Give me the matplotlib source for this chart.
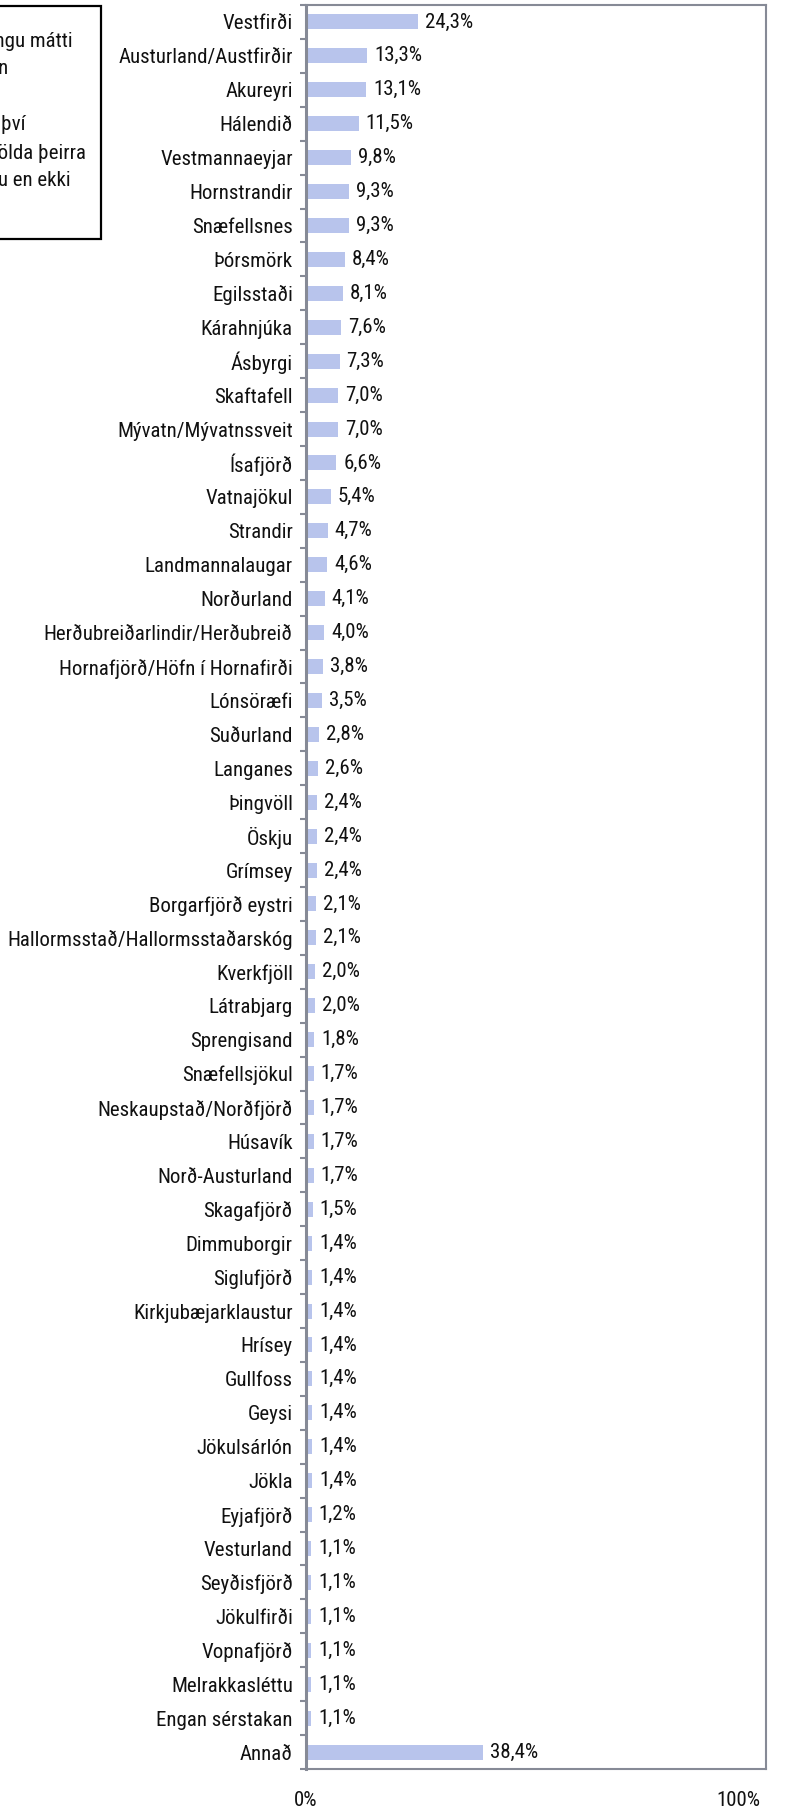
import numpy as np
import matplotlib
matplotlib.use("Agg")
import matplotlib.pyplot as plt
from matplotlib import font_manager as fm
from matplotlib.patches import Rectangle
from matplotlib.ticker import FixedLocator
import matplotlib.transforms as mtransforms

# Staðir sem nefndir voru og hlutfall svarenda (%)
places = [
    "Vestfirði", "Austurland/Austfirðir", "Akureyri", "Hálendið",
    "Vestmannaeyjar", "Hornstrandir", "Snæfellsnes", "Þórsmörk",
    "Egilsstaði", "Kárahnjúka", "Ásbyrgi", "Skaftafell",
    "Mývatn/Mývatnssveit", "Ísafjörð", "Vatnajökul", "Strandir",
    "Landmannalaugar", "Norðurland", "Herðubreiðarlindir/Herðubreið",
    "Hornafjörð/Höfn í Hornafirði", "Lónsöræfi", "Suðurland", "Langanes",
    "Þingvöll", "Öskju", "Grímsey", "Borgarfjörð eystri",
    "Hallormsstað/Hallormsstaðarskóg", "Kverkfjöll", "Látrabjarg",
    "Sprengisand", "Snæfellsjökul", "Neskaupstað/Norðfjörð", "Húsavík",
    "Norð-Austurland", "Skagafjörð", "Dimmuborgir", "Siglufjörð",
    "Kirkjubæjarklaustur", "Hrísey", "Gullfoss", "Geysi", "Jökulsárlón",
    "Jökla", "Eyjafjörð", "Vesturland", "Seyðisfjörð", "Jökulfirði",
    "Vopnafjörð", "Melrakkasléttu", "Engan sérstakan", "Annað",
]
shares = [
    24.3, 13.3, 13.1, 11.5, 9.8, 9.3, 9.3, 8.4, 8.1, 7.6, 7.3, 7.0,
    7.0, 6.6, 5.4, 4.7, 4.6, 4.1, 4.0, 3.8, 3.5, 2.8, 2.6, 2.4, 2.4,
    2.4, 2.1, 2.1, 2.0, 2.0, 1.8, 1.7, 1.7, 1.7, 1.7, 1.5, 1.4, 1.4,
    1.4, 1.4, 1.4, 1.4, 1.4, 1.4, 1.2, 1.1, 1.1, 1.1, 1.1, 1.1, 1.1,
    38.4,
]
x_ticks = [0, 100]
x_tick_labels = ["0%", "100%"]

note_lines = [
    "Í þessari spurningu mátti",
    "nefna fleiri en einn",
    "",
    "Hlutfallstölur eru því",
    "reiknaðar af fjölda þeirra",
    "sem svöruðu en ekki",
]

# Condensed sans-serif if one is installed
available = {f.name for f in fm.fontManager.ttflist}
family = "DejaVu Sans"
for cand in ["Liberation Sans Narrow", "Arial Narrow", "Roboto Condensed",
             "Open Sans Condensed", "Liberation Sans"]:
    if cand in available:
        family = cand
        break
plt.rcParams["font.family"] = [family, "DejaVu Sans"]

W, H = 801, 1811
fig = plt.figure(figsize=(W / 100, H / 100), dpi=100)
ax = fig.add_axes([306 / W, 1 - 1769 / H, (766 - 306) / W, (1769 - 5) / H])

bar_color = "#B8C4EC"
frame_color = "#868A96"
text_color = "#111111"
fs = 15

n = len(places)
y = np.arange(n)
ax.barh(y, shares, height=0.44, color=bar_color, edgecolor="none")
ax.set_ylim(n - 0.5, -0.5)
ax.set_xlim(0, 100)

for yi, v in zip(y, shares):
    ax.annotate(f"{v:.1f}%".replace(".", ","), xy=(v, yi),
                xytext=(5, 0), textcoords="offset points",
                ha="left", va="center", fontsize=fs, color=text_color)

ax.set_yticks(y)
ax.set_yticklabels(places, fontsize=fs, color=text_color)
ax.yaxis.set_minor_locator(FixedLocator(np.arange(n + 1) - 0.5))
ax.tick_params(axis="y", which="major", length=0, pad=9.5)
ax.tick_params(axis="y", which="minor", length=4, width=1.5,
               color=frame_color, direction="out")

ax.set_xticks(x_ticks)
ax.set_xticklabels(x_tick_labels, fontsize=fs, color=text_color)
ax.tick_params(axis="x", which="both", length=0, pad=16)
lbls = ax.get_xticklabels()
lbls[-1].set_horizontalalignment("right")
lbls[-1].set_transform(lbls[-1].get_transform() +
                       mtransforms.ScaledTranslation(-6 / 100, 0, fig.dpi_scale_trans))

for side in ["top", "right", "bottom"]:
    ax.spines[side].set_color(frame_color)
    ax.spines[side].set_linewidth(1.5)
ax.spines["left"].set_color(frame_color)
ax.spines["left"].set_linewidth(2.2)

# Skýringarreitur efst til vinstri
fig.patches.append(Rectangle((-20 / W, 1 - 239 / H), 121 / W, (239 - 6) / H,
                             transform=fig.transFigure, facecolor="white",
                             edgecolor="black", linewidth=1.6, zorder=5))
line_ends = [73, 8, 0, 26, 86, 71]
line_y = [40, 68, 96, 124, 153, 181]
for txt, xe, yl in zip(note_lines, line_ends, line_y):
    if txt:
        fig.text(xe / W, 1 - yl / H, txt, ha="right", va="center",
                 fontsize=fs, color=text_color, zorder=6)

fig.savefig("out.png", dpi=100)
